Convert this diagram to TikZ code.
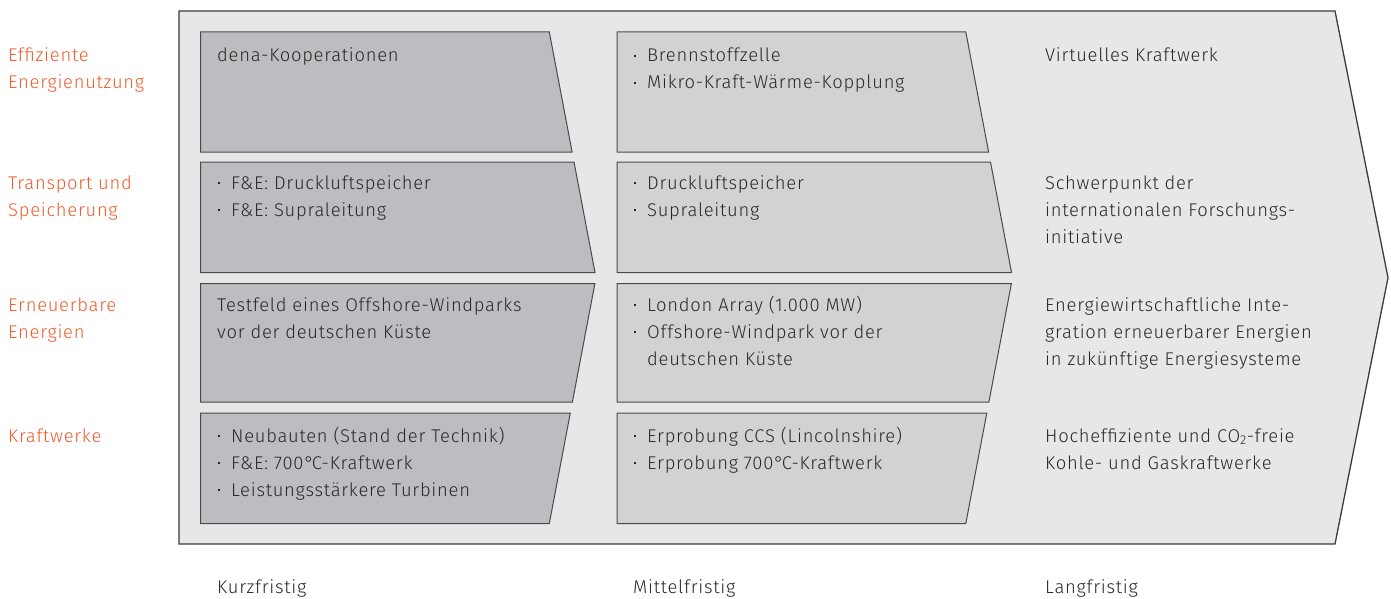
\documentclass[tikz,border=0pt]{standalone}
\usepackage{fontspec}
\setmainfont{Fira Sans Light}[LetterSpace=4]
\definecolor{panel}{HTML}{E6E7E8}
\definecolor{frameline}{HTML}{3C3C3C}
\definecolor{boxline}{HTML}{4A4A4A}
\definecolor{shortfill}{HTML}{BCBDC0}
\definecolor{midfill}{HTML}{D1D2D4}
\definecolor{ink}{HTML}{282828}
\definecolor{accent}{HTML}{EF5B2B}
% small square bullet followed by a fixed indent
\newcommand\bul{\makebox[14pt][l]{\hspace{0.5pt}\raisebox{4.6pt}{\rule{2.3pt}{2.3pt}}}}
\newcommand\ind{\hspace*{14pt}}
\newcommand\degC{°\kern-2pt C}
% one row box of a column: style, x offset, top y, bottom y
\newcommand\phasebox[4]{%
  \pgfmathsetmacro\pbL{200.5+#2}%
  \pgfmathsetmacro\pbT{#2+596-0.19*abs(277.75-#3)}%
  \pgfmathsetmacro\pbB{#2+596-0.19*abs(277.75-#4)}%
  \draw[#1] (\pbL,#3) -- (\pbT,#3) -- (\pbB,#4) -- (\pbL,#4) -- cycle;}
\begin{document}
% text nodes are anchored at the baseline of their last line (27pt line pitch)
\begin{tikzpicture}[x=1pt,y=-1pt,
  frame/.style={draw=frameline,line width=1.3pt,fill=panel,line join=miter},
  shortbox/.style={draw=boxline,line width=1pt,fill=shortfill},
  midbox/.style={draw=boxline,line width=1pt,fill=midfill},
  txt/.style={anchor=base west,inner sep=0pt,align=left,text=ink,
    font=\fontsize{18.4}{27}\selectfont},
  topic/.style={txt,text=accent}]
\useasboundingbox (0,0) rectangle (1391,599);

% outer arrow
\draw[frame] (179,11) -- (1335,11) -- (1388,277.75) -- (1335,544) -- (179,544) -- cycle;

% short-term column
\phasebox{shortbox}{0}{32}{152}
\phasebox{shortbox}{0}{162}{272.5}
\phasebox{shortbox}{0}{283.5}{402}
\phasebox{shortbox}{0}{413}{523.5}
% mid-term column
\phasebox{midbox}{416.5}{32}{152}
\phasebox{midbox}{416.5}{162}{272.5}
\phasebox{midbox}{416.5}{283.5}{402}
\phasebox{midbox}{416.5}{413}{523.5}

% topics
\node[topic] (t1) at (8,89) {Effiziente\\Energienutzung};
\node[topic] (t2) at (8,216) {Transport und\\Speicherung};
\node[topic] (t3) at (8,338) {Erneuerbare\\Energien};
\node[topic] (t4) at (8,442) {Kraftwerke};

% short term
\node[txt] (k1) at (217,62) {dena-Kooperationen};
\node[txt] (k2) at (217,216) {\bul F\&E: Druckluftspeicher\\\bul F\&E: Supraleitung};
\node[txt] (k3) at (217,338) {Testfeld eines Offshore-Windparks\\vor der deutschen Küste};
\node[txt] (k4) at (217,496) {\bul Neubauten (Stand der Technik)\\\bul F\&E: 700\degC-Kraftwerk\\\bul Leistungsstärkere Turbinen};

% mid term
\node[txt] (m1) at (633,89) {\bul Brennstoffzelle\\\bul Mikro-Kraft-Wärme-Kopplung};
\node[txt] (m2) at (633,216) {\bul Druckluftspeicher\\\bul Supraleitung};
\node[txt] (m3) at (633,365) {\bul London Array (1.000 MW)\\\bul Offshore-Windpark vor der\\\ind deutschen Küste};
\node[txt] (m4) at (633,469) {\bul Erprobung CCS (Lincolnshire)\\\bul Erprobung 700\degC-Kraftwerk};

% long term
\node[txt] (l1) at (1045,62) {Virtuelles Kraftwerk};
\node[txt] (l2) at (1045,243) {Schwerpunkt der\\internationalen Forschungs-\\initiative};
\node[txt] (l3) at (1045,365) {Energiewirtschaftliche Inte-\\gration erneuerbarer Energien\\in zukünftige Energiesysteme};
\node[txt] (l4) at (1045,469) {Hocheffiziente und CO\textsubscript{2}-freie\\Kohle- und Gaskraftwerke};

% horizon labels
\node[txt] (h1) at (217,593) {Kurzfristig};
\node[txt] (h2) at (633,593) {Mittelfristig};
\node[txt] (h3) at (1045,593) {Langfristig};
\end{tikzpicture}
\end{document}
